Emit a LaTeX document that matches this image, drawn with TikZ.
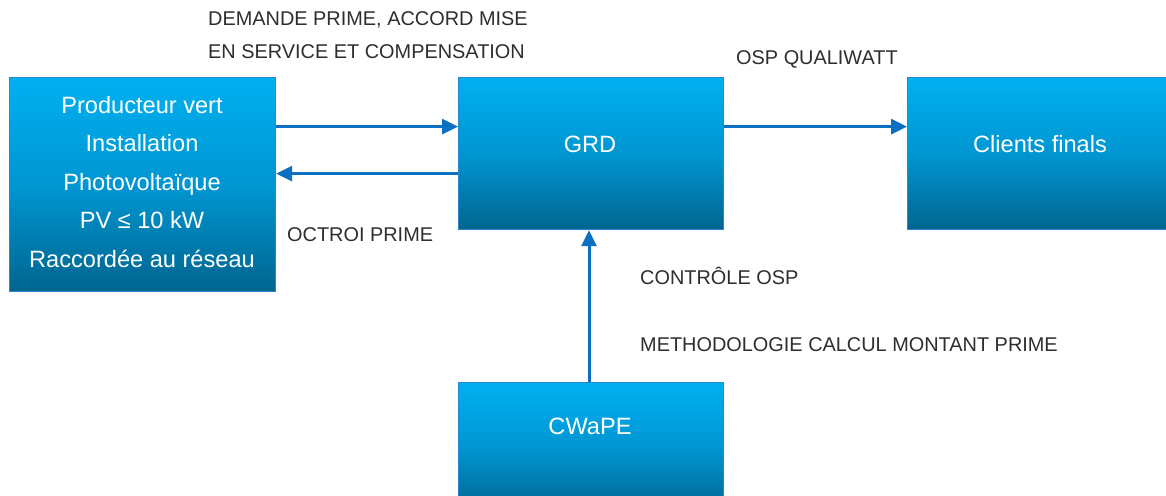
\documentclass[tikz,border=0pt]{standalone}
\usepackage{fontspec}
\setmainfont{Liberation Sans}
\usetikzlibrary{arrows.meta}
\definecolor{boxtop}{HTML}{00B0F0}
\definecolor{boxmid}{HTML}{0096D2}
\definecolor{boxbot}{HTML}{00658F}
\definecolor{boxline}{HTML}{2A86CC}
\definecolor{arrowc}{HTML}{0B6FC2}
\definecolor{labc}{HTML}{2E2E2E}
\tikzset{
  bluebox/.style={draw=boxline, line width=1.2pt, top color=boxtop, bottom color=boxbot, middle color=boxmid, shading=axis, anchor=north west, inner sep=0pt},
  boxtext/.style={text=white, font=\fontsize{23.6}{27.5}\selectfont, align=center},
  lab/.style={text=labc, font=\fontsize{19.9}{23}\selectfont, anchor=base west, inner sep=0pt},
  arr/.style={draw=arrowc, line width=3pt, -{Triangle[length=16pt,width=15pt]}}
}
\begin{document}
\begin{tikzpicture}[x=1pt,y=-1pt]
\useasboundingbox (0,0) rectangle (1166,495);
\begin{scope}
\clip (0,0) rectangle (1166,495);
\node[bluebox, minimum width=266pt, minimum height=214pt] (prod) at (9,77) {};
\node[bluebox, minimum width=265pt, minimum height=152pt] (grd) at (458,77) {};
\node[bluebox, minimum width=268pt, minimum height=152pt] (cli) at (907,77) {};
\node[bluebox, minimum width=265pt, minimum height=130pt] (cwape) at (458,382) {};
\end{scope}
\node[boxtext] (prodtxt) at (142,182) {Producteur vert\\[11pt]Installation\\[11pt]Photovoltaïque\\[11pt]PV ≤ 10 kW\\[11pt]Raccordée au réseau};
\node[boxtext] (grdtxt) at (590,144) {GRD};
\node[boxtext] (clitxt) at (1040,144) {Clients finals};
\node[boxtext] (cwapetxt) at (590,426) {CWaPE};
\coordinate (a1) at ([yshift=27pt]grd.west);
\coordinate (a2) at ([yshift=-20pt]grd.west);
\coordinate (a3) at ([yshift=27pt]cli.west);
\draw[arr] (prod.east |- a1) -- (a1);
\draw[arr] (a2) -- (prod.east |- a2);
\draw[arr] (grd.east |- a3) -- (a3);
\draw[arr] (cwape.north -| 589,0) -- (grd.south -| 589,0);
\node[lab] (l1) at (208,26) {DEMANDE PRIME, ACCORD MISE};
\node[lab] (l2) at (208,59) {EN SERVICE ET COMPENSATION};
\node[lab] (l3) at (736,64) {OSP QUALIWATT};
\node[lab] (l4) at (287,241) {OCTROI PRIME};
\node[lab] (l5) at (640,284) {CONTRÔLE OSP};
\node[lab] (l6) at (640,351) {METHODOLOGIE CALCUL MONTANT PRIME};
\end{tikzpicture}
\end{document}
